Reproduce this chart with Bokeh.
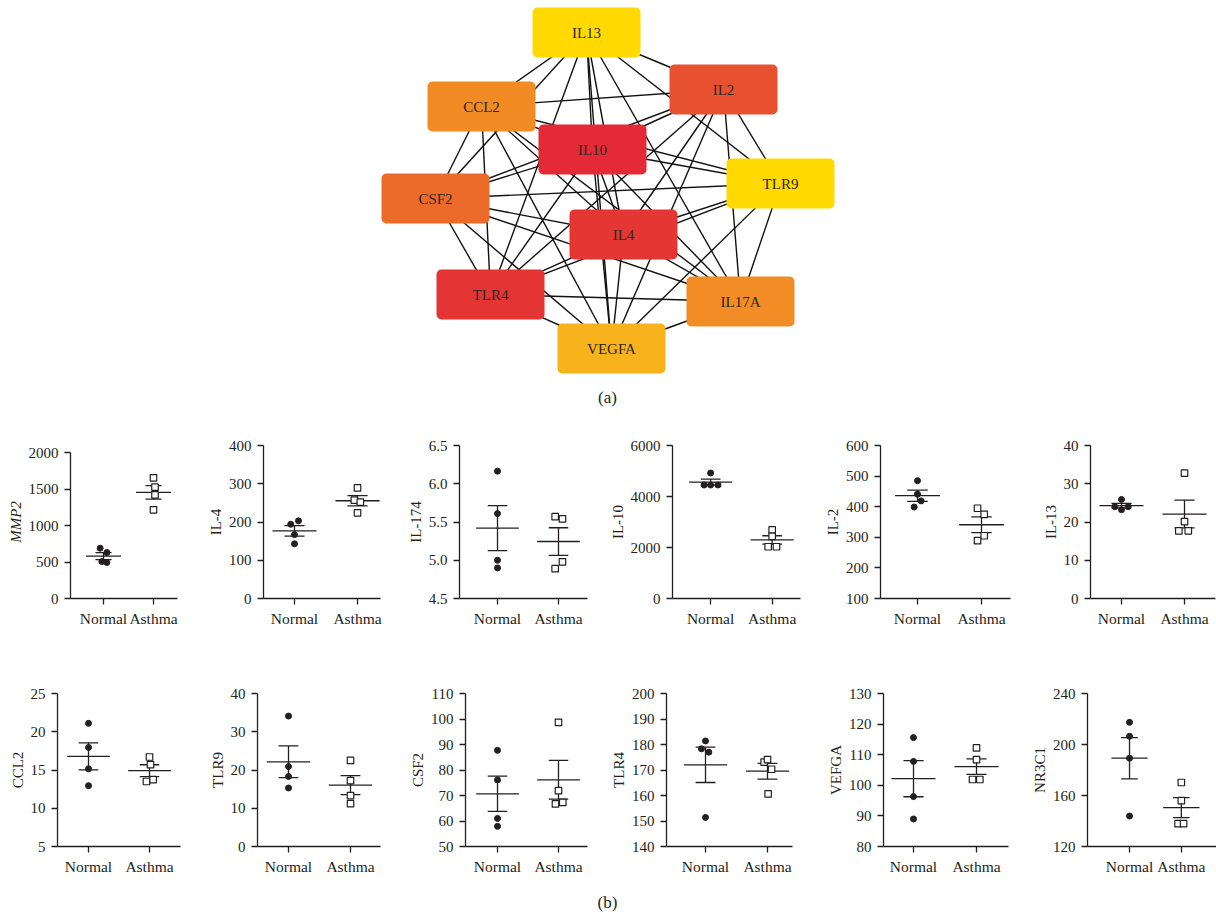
from itertools import combinations
import numpy as np
from bokeh.plotting import figure
from bokeh.models import Range1d, FixedTicker, Label, NumeralTickFormatter, ColumnDataSource
from bokeh.layouts import column, row
from bokeh.embed import file_html
from bokeh.resources import INLINE
from bokeh.core.properties import value

FONT = "'Liberation Serif', 'DejaVu Serif', serif"
INK = "#231f20"

# ---------------- network (a) ----------------
nodes = ["IL13", "IL2", "CCL2", "IL10", "TLR9", "CSF2", "IL4", "TLR4", "IL17A", "VEGFA"]
node_x = [586, 723, 481, 592, 780, 435, 623, 490, 740, 611]
node_y = [32, 89, 106, 149, 183, 198, 234, 294, 301, 348]
node_colors = ["#FFD900", "#E8512F", "#F28B24", "#E42A36", "#FFD900",
               "#EC6B2B", "#E43733", "#E43434", "#F28C24", "#F8B21C"]
edges = list(combinations(range(len(nodes)), 2))

# ---------------- scatter panels (b) ----------------
groups = ["Normal", "Asthma"]
p_texts = ["= 0.0002", "= 0.0055", "= 0.6271", "< 0.0001", "= 0.0233", "= 0.5705",
           "= 0.3646", "= 0.2544", "= 0.6156", "= 0.7468", "= 0.5514", "= 0.0749"]
ylabels = ["MMP2", "IL-4", "IL-174", "IL-10", "IL-2", "IL-13",
           "CCL2", "TLR9", "CSF2", "TLR4", "VEFGA", "NR3C1"]
normal_vals = [
    [689, 630, 507, 493],
    [194, 203, 167, 143],
    [6.165, 5.61, 5.0, 4.9],
    [4920, 4450, 4450, 4450],
    [485, 441, 419, 399],
    [25.9, 24.0, 23.2, 24.0],
    [21.1, 17.95, 15.15, 12.95],
    [34.1, 20.9, 18.3, 15.3],
    [87.7, 76.1, 61.0, 57.9],
    [181.4, 178.3, 177.0, 151.4],
    [115.6, 107.8, 96.3, 89.0],
    [217.4, 206.4, 189.3, 143.9],
]
asthma_vals = [
    [1653, 1525, 1420, 1215],
    [289, 257, 252, 224],
    [5.57, 5.54, 4.98, 4.89],
    [2690, 2440, 2030, 2030],
    [395, 375, 305, 289],
    [32.8, 20.1, 17.7, 17.7],
    [16.7, 15.7, 13.5, 13.75],
    [22.5, 17.2, 13.3, 11.2],
    [98.7, 71.9, 66.7, 67.3],
    [173.1, 174.1, 170.3, 160.6],
    [112.2, 108.4, 101.9, 101.9],
    [170.2, 156.0, 137.9, 137.9],
]
# horizontal spread of the points (category units)
normal_dx = [
    [-0.067, 0.067, -0.033, 0.067], [-0.06, 0.063, 0, 0], [0, 0, 0, 0],
    [0, -0.105, 0, 0.12], [0, 0, 0.057, -0.052], [0, -0.105, 0, 0.105],
    [0, 0, 0, 0], [0, 0, 0, 0], [0, 0, 0, 0],
    [0, -0.065, 0.054, 0], [0, 0, 0, 0], [0, 0, 0, 0],
]
asthma_dx = [
    [0, 0.03, 0.03, 0], [0, -0.05, 0.045, 0], [-0.055, 0.065, 0.065, -0.055],
    [0, 0, -0.065, 0.07], [-0.062, 0.042, 0.042, -0.062], [0, 0, -0.09, 0.06],
    [0, 0.016, -0.05, 0.06], [0, 0, 0, 0], [0, 0, -0.05, 0.07],
    [-0.054, 0, 0.065, 0.01], [0, 0, -0.063, 0.053], [0, 0, -0.063, 0.044],
]
yticks = [
    [0, 500, 1000, 1500, 2000], [0, 100, 200, 300, 400], [4.5, 5.0, 5.5, 6.0, 6.5],
    [0, 2000, 4000, 6000], [100, 200, 300, 400, 500, 600], [0, 10, 20, 30, 40],
    [5, 10, 15, 20, 25], [0, 10, 20, 30, 40], [50, 60, 70, 80, 90, 100, 110],
    [140, 150, 160, 170, 180, 190, 200], [80, 90, 100, 110, 120, 130], [120, 160, 200, 240],
]

# ---------------- layout (pixels) ----------------
# per panel: y-axis x, x-axis end, Normal tick x, Asthma tick x, y-axis top
panel_px = [
    (70, 177, 103, 153, 452), (263, 380, 294, 357, None), (459, 587, 497, 558, None),
    (669, 800, 708, 771, None), (880, 1010, 917, 981, None), (1090, 1215, 1121, 1184, None),
    (57, 180, 88, 149, None), (257, 380, 288, 350, None), (465, 587, 497, 558, None),
    (666, 792, 705, 767, None), (883, 1008, 913, 976, None), (1084, 1216, 1127, 1180, None),
]
NET_H = 408
row_tops = [408, 640]
rows_geom = [dict(top=37, frame=153, height=232, title_dy=15),
             dict(top=53, frame=153, height=248, title_dy=17)]
bounds_x = [0, 198, 398, 606, 818, 1028, 1216]
MEAN_HW = 0.35
CAP_HW = 0.16


def make_panel(k):
    r, c = divmod(k, 6)
    g = rows_geom[r]
    A, E, N, S, atop = panel_px[k]
    X0, X1 = bounds_x[c], bounds_x[c + 1]
    L = A - X0
    R = X1 - E
    gap = S - N
    xs = 1 - (N - A) / gap
    xe = 1 + (E - N) / gap
    ticks = yticks[k]
    y0, y1 = ticks[0], ticks[-1]
    frame_top = row_tops[r] + g["top"]
    shrink = 0 if atop is None else atop - frame_top
    yend = y0 + (y1 - y0) * g["frame"] / (g["frame"] - shrink)

    p = figure(width=X1 - X0, height=g["height"],
               x_range=Range1d(xs, xe), y_range=Range1d(y0, yend),
               min_border_left=L, min_border_right=R, min_border_top=g["top"],
               min_border_bottom=g["height"] - g["top"] - g["frame"],
               toolbar_location=None, output_backend="svg", tools="")
    p.outline_line_color = None
    p.grid.visible = False

    # mean +- SEM
    seg = dict(x0=[], y0=[], x1=[], y1=[])
    for gi, vals in enumerate([normal_vals[k], asthma_vals[k]]):
        v = np.array(vals, dtype=float)
        m = v.mean()
        sem = v.std(ddof=1) / np.sqrt(len(v))
        xc = gi + 1
        for a, b, c0, d in [(xc - MEAN_HW, m, xc + MEAN_HW, m),
                            (xc, m - sem, xc, m + sem),
                            (xc - CAP_HW, m - sem, xc + CAP_HW, m - sem),
                            (xc - CAP_HW, m + sem, xc + CAP_HW, m + sem)]:
            seg["x0"].append(a); seg["y0"].append(b)
            seg["x1"].append(c0); seg["y1"].append(d)
    p.segment("x0", "y0", "x1", "y1", source=ColumnDataSource(seg),
              line_color=INK, line_width=1.3)

    nx = [1 + d for d in normal_dx[k]]
    ax = [2 + d for d in asthma_dx[k]]
    p.scatter(nx, normal_vals[k], marker="circle", size=6,
              fill_color=INK, line_color=INK)
    p.scatter(ax, asthma_vals[k], marker="square", size=6.5,
              fill_color="white", line_color=INK, line_width=1.2)

    for ax_ in (p.xaxis[0], p.yaxis[0]):
        ax_.axis_line_color = INK
        ax_.axis_line_width = 1.3
        ax_.major_tick_line_color = INK
        ax_.major_tick_line_width = 1.3
        ax_.major_tick_out = 6
        ax_.major_tick_in = 0
        ax_.minor_tick_out = 0
        ax_.minor_tick_in = 0
        ax_.major_label_text_font = FONT
        ax_.major_label_text_font_size = "15px"
        ax_.major_label_text_color = INK
        ax_.major_label_standoff = 6

    p.xaxis.ticker = FixedTicker(ticks=[1, 2])
    p.xaxis.major_label_overrides = {1: groups[0], 2: groups[1]}
    p.xaxis.major_label_text_font_size = "15.5px"
    p.xaxis.major_label_standoff = 5

    p.yaxis.ticker = FixedTicker(ticks=ticks)
    if k == 2:
        p.yaxis.formatter = NumeralTickFormatter(format="0.0")
    if shrink:
        p.yaxis.bounds = (y0, y1)
    p.yaxis.axis_label = ylabels[k]
    p.yaxis.axis_label_text_font = FONT
    p.yaxis.axis_label_text_font_size = "15px"
    p.yaxis.axis_label_text_font_style = "italic" if k == 0 else "normal"
    p.yaxis.axis_label_text_color = INK
    p.yaxis.axis_label_standoff = 2

    p.add_layout(Label(x=1.5, y=yend, x_offset=-24, y_offset=g["title_dy"], text="P",
                       text_align="right", text_baseline="middle", text_font=FONT,
                       text_font_style="italic", text_font_size="15px", text_color=INK))
    p.add_layout(Label(x=1.5, y=yend, x_offset=-20, y_offset=g["title_dy"], text=p_texts[k],
                       text_align="left", text_baseline="middle", text_font=FONT,
                       text_font_size="15px", text_color=INK))
    return p


# ---------------- network figure ----------------
net = figure(width=1216, height=NET_H, x_range=Range1d(0, 1216), y_range=Range1d(NET_H, 0),
             x_axis_type=None, y_axis_type=None, toolbar_location=None,
             output_backend="svg", min_border=0, tools="")
net.outline_line_color = None
net.grid.visible = False
esrc = ColumnDataSource(dict(
    x0=[node_x[a] for a, b in edges], y0=[node_y[a] for a, b in edges],
    x1=[node_x[b] for a, b in edges], y1=[node_y[b] for a, b in edges]))
net.segment("x0", "y0", "x1", "y1", source=esrc, line_color="#111111", line_width=1.4)
BW, BH = 54, 25
nsrc = ColumnDataSource(dict(
    left=[x - BW for x in node_x], right=[x + BW for x in node_x],
    top=[y - BH for y in node_y], bottom=[y + BH for y in node_y],
    x=node_x, y=node_y, name=nodes, color=node_colors))
net.quad(left="left", right="right", top="top", bottom="bottom", source=nsrc,
         fill_color="color", line_color=None, border_radius=5)
net.text(x="x", y="y", text="name", source=nsrc, text_align="center",
         text_baseline="middle", text_font=value(FONT), text_font_size="15px",
         text_color="#2e2620")
net.text(x=[607], y=[397], text=["(a)"], text_align="center", text_baseline="middle",
         text_font=value(FONT), text_font_size="17px", text_color=INK)

# ---------------- (b) label ----------------
bfig = figure(width=1216, height=24, x_range=Range1d(0, 1216), y_range=Range1d(912, 888),
              x_axis_type=None, y_axis_type=None, toolbar_location=None,
              output_backend="svg", min_border=0, tools="")
bfig.outline_line_color = None
bfig.grid.visible = False
bfig.text(x=[607], y=[902], text=["(b)"], text_align="center", text_baseline="middle",
          text_font=value(FONT), text_font_size="17px", text_color=INK)

panels = [make_panel(k) for k in range(12)]
layout = column(net, row(*panels[:6], spacing=0), row(*panels[6:], spacing=0), bfig, spacing=0)

open("out.html", "w").write(file_html(layout, INLINE))
